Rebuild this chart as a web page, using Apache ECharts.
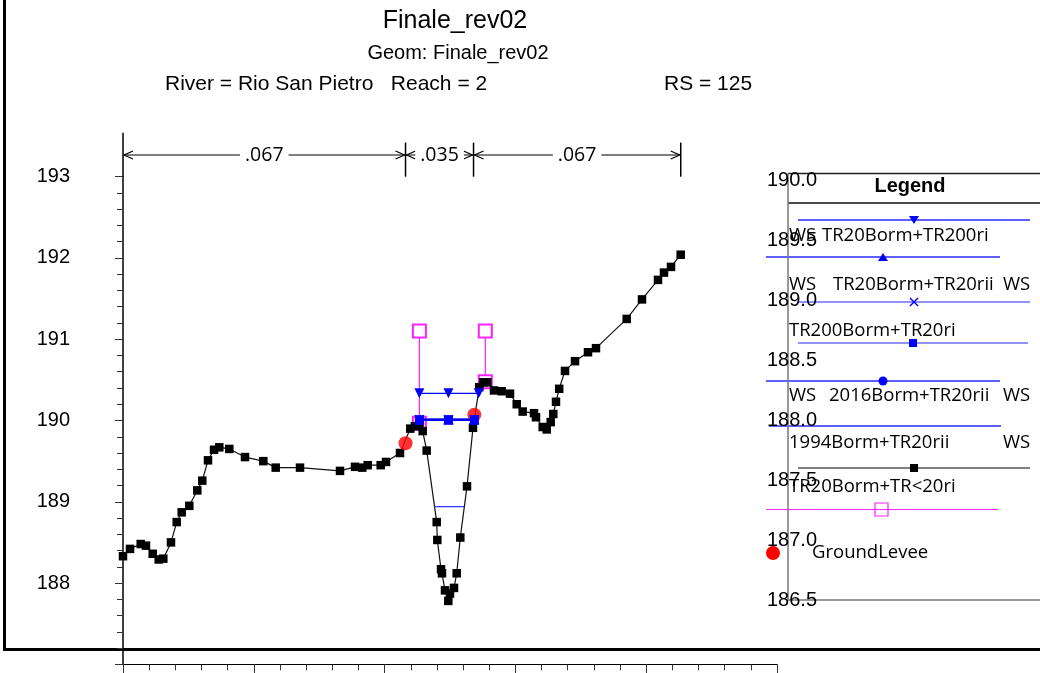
<!DOCTYPE html>
<html><head><meta charset="utf-8">
<script src="https://cdn.jsdelivr.net/npm/echarts@6/dist/echarts.min.js"></script>
<style>html,body{margin:0;padding:0;background:#fff}#c{width:1040px;height:673px}</style>
</head><body><div id="c"></div><script>
// ---- data (station, elevation) ----
const groundSta = [0,2.68,6.77,8.79,11.35,13.65,15.41,18.35,20.53,22.44,25.34,28.40,30.31,32.49,34.79,36.81,40.63,46.64,53.63,58.37,67.66,82.95,88.69,91.47,93.54,98.51,100.54,105.89,109.82,111.6,113.34,114.56,116.09,119.92,120.15,121.56,121.94,123.09,124.35,125.0,126.53,127.56,128.94,131.50,133.79,136.20,137.73,139.26,141.82,144.76,147.94,150.50,152.79,157.11,157.87,160.44,161.96,163.49,164.49,165.52,166.74,168.96,172.78,177.75,180.81,192.55,198.39,204.51,206.80,209.48,213.19];
const groundElev = [188.33,188.42,188.48,188.46,188.36,188.29,188.30,188.50,188.75,188.87,188.95,189.14,189.26,189.51,189.64,189.67,189.65,189.55,189.50,189.42,189.42,189.38,189.43,189.42,189.45,189.45,189.49,189.60,189.90,189.93,189.94,189.87,189.63,188.75,188.53,188.17,188.12,187.91,187.78,187.87,187.94,188.12,188.56,189.19,189.91,190.41,190.47,190.47,190.37,190.36,190.33,190.20,190.11,190.09,190.04,189.92,189.89,189.98,190.08,190.23,190.39,190.61,190.73,190.84,190.89,191.25,191.49,191.73,191.82,191.89,192.04];
const leveeSta = [108.0, 134.3];
const leveeElev = [189.72, 190.07];
const ineffLeftSta = [113.3, 113.3];
const ineffLeftElev = [189.965, 191.10];
const ineffRightSta = [138.5, 138.5];
const ineffRightElev = [190.477, 191.10];
const wsHighSta = [113.3, 124.4, 136.0];   // WS TR20Borm+TR200ri
const wsHighElev = [190.335, 190.335, 190.335];
const wsMidSta = [113.3, 124.4, 134.3];    // WS TR20Borm+TR20rii / TR200Borm+TR20ri / 2016Borm+TR20rii
const wsMidElev = [190.01, 190.01, 190.01];
const ws1994Sta = [118.9, 130.4];
const ws1994Elev = [188.94, 188.94];
const nStations = [0, 108.0, 134.0, 213.2];
const nValues = ['.067', '.035', '.067'];
const nArrowElev = 193.267;
const yTicks = [188, 189, 190, 191, 192, 193];
const legendAxisTicks = [186.5, 187.0, 187.5, 188.0, 188.5, 189.0, 189.5, 190.0];

const pairs = (s, e) => s.map((v, i) => [v, e[i]]);
const AX = '"Liberation Sans", Arial, sans-serif';
const SEG = '"Open Sans", "Noto Sans", sans-serif';
const xMark = 'path://M0,1L1,0L5,4L9,0L10,1L6,5L10,9L9,10L5,6L1,10L0,9L4,5Z';

const chart = echarts.init(document.getElementById('c'));

// legend decoration (graphic)
const g = [];
function hline(x1, x2, y, color, w) { g.push({type:'line', shape:{x1, y1:y, x2, y2:y}, style:{stroke:color, lineWidth:w||1}, silent:true}); }
function vline(x, y1, y2, color, w) { g.push({type:'line', shape:{x1:x, y1, x2:x, y2}, style:{stroke:color, lineWidth:w||1}, silent:true}); }
function txt(s, x, y, opt) { g.push(Object.assign({type:'text', x, y, style:{text:s, fill:'#000', font:'18.5px ' + SEG, verticalAlign:'middle'}, silent:true}, opt||{})); }
// outer frame
vline(4.5, 0, 650, '#000', 3);
hline(3, 1040, 649.5, '#000', 3);
// titles
g.push({type:'text', x:455, y:21, style:{text:'Finale_rev02', font:'25px ' + AX, fill:'#000', align:'center', verticalAlign:'middle'}});
g.push({type:'text', x:458, y:53, style:{text:'Geom: Finale_rev02', font:'20px ' + AX, fill:'#000', align:'center', verticalAlign:'middle'}});
g.push({type:'text', x:165, y:84, style:{text:'River = Rio San Pietro   Reach = 2', font:'21px ' + AX, fill:'#000', align:'left', verticalAlign:'middle'}});
g.push({type:'text', x:664, y:84, style:{text:'RS = 125', font:'21px ' + AX, fill:'#000', align:'left', verticalAlign:'middle'}});
// legend box
hline(788, 1040, 173.5, '#222', 1.5);
hline(788, 1040, 203, '#111', 1.5);
vline(788, 173, 181, '#777', 1.5);
g.push({type:'text', x:910, y:186, style:{text:'Legend', font:'bold 20px ' + AX, fill:'#000', align:'center', verticalAlign:'middle'}});
const BL = '#2a2aff', BL2 = '#6e6eff';
// item: down triangle
hline(798, 1030, 220, BL, 1.5);
g.push({type:'polygon', shape:{points:[[909,216],[919,216],[914,224]]}, style:{fill:'#0000ff'}});
txt('WS', 789, 236); txt('TR20Borm+TR200ri', 822, 236);
// up triangle
hline(766, 1000, 257, BL, 1.5);
g.push({type:'polygon', shape:{points:[[878,261],[888,261],[883,253]]}, style:{fill:'#0000ff'}});
txt('WS', 789, 285); txt('TR20Borm+TR20rii', 833, 285); txt('WS', 1003, 285);
// x
hline(798, 1030, 302, BL2, 1.5);
g.push({type:'polyline', shape:{points:[[910,298],[918,306]]}, style:{stroke:'#0000ff', lineWidth:1.5}});
g.push({type:'polyline', shape:{points:[[918,298],[910,306]]}, style:{stroke:'#0000ff', lineWidth:1.5}});
txt('TR200Borm+TR20ri', 789, 331);
// square
hline(798, 1028, 343, BL2, 1.5);
g.push({type:'rect', shape:{x:909, y:339, width:8, height:8}, style:{fill:'#0000ff'}});
// circle
hline(766, 1000, 381, BL, 1.5);
g.push({type:'circle', shape:{cx:883, cy:381, r:4.5}, style:{fill:'#0000ff'}});
txt('WS', 789, 396); txt('2016Borm+TR20rii', 829, 396); txt('WS', 1003, 396);
// 1994 no marker
hline(769, 1001, 426, BL, 1.5);
txt('1994Borm+TR20rii', 789, 443); txt('WS', 1003, 443);
// ground
hline(798, 1030, 468, '#555', 1.5);
g.push({type:'rect', shape:{x:910, y:464, width:8, height:8}, style:{fill:'#000'}});
txt('TR20Borm+TR<20ri', 789, 487);
// ineffective
hline(766, 998, 509.5, '#ff22ff', 1.2);
g.push({type:'rect', shape:{x:875, y:503, width:13, height:13}, style:{fill:'none', stroke:'#ff22ff', lineWidth:1.2}});
// levee
g.push({type:'circle', shape:{cx:773, cy:553, r:7}, style:{fill:'#ff0000'}});
txt('GroundLevee', 812, 553);

function renderN(params, api) {
  const x0 = api.value(0), x1 = api.value(1), yv = api.value(2), idx = api.value(3);
  const pL = api.coord([x0, yv]), pR = api.coord([x1, yv]);
  const y = pL[1];
  const tTop = api.coord([x1, 193.42])[1], tBot = api.coord([x1, 193.0])[1];
  const ch = [
    {type:'line', shape:{x1:pL[0], y1:y, x2:pR[0], y2:y}, style:{stroke:'#000', lineWidth:1}},
    {type:'polyline', shape:{points:[[pL[0]+10, y-4],[pL[0]+1, y],[pL[0]+10, y+4]]}, style:{stroke:'#000', lineWidth:1.2, fill:null}},
    {type:'polyline', shape:{points:[[pR[0]-10, y-4],[pR[0]-1, y],[pR[0]-10, y+4]]}, style:{stroke:'#000', lineWidth:1.2, fill:null}},
    {type:'line', shape:{x1:pR[0], y1:tTop, x2:pR[0], y2:tBot}, style:{stroke:'#000', lineWidth:1.5}},
    {type:'text', style:{text:nValues[idx], x:(pL[0]+pR[0])/2, y:y, align:'center', verticalAlign:'middle', font:'19.5px ' + SEG, fill:'#000', backgroundColor:'#fff', padding:[0,5]}}
  ];
  if (idx === 0) {
    const top = api.coord([x0, 193.54])[1];
    ch.push({type:'line', shape:{x1:pL[0], y1:top, x2:pL[0], y2:tBot}, style:{stroke:'#000', lineWidth:1.5}});
  }
  return {type:'group', children: ch};
}

const nData = nValues.map((v, i) => [nStations[i], nStations[i+1], nArrowElev, i]);

const option = {
  animation: false,
  backgroundColor: '#fff',
  grid: [
    {left:123, right:263, top:176.7, bottom:8.7},
    {left:788, top:180, width:252, height:420}
  ],
  xAxis: [
    {gridIndex:0, type:'value', min:0, max:250, interval:50,
     axisLine:{lineStyle:{color:'#000', width:1}},
     axisTick:{show:true, length:10, lineStyle:{color:'#333'}},
     minorTick:{show:true, splitNumber:5, length:6, lineStyle:{color:'#333'}},
     axisLabel:{show:false}, splitLine:{show:false}},
    {gridIndex:1, type:'value', min:0, max:1,
     axisLine:{lineStyle:{color:'#777', width:1.5}}, axisTick:{show:false},
     axisLabel:{show:false}, splitLine:{show:false}}
  ],
  yAxis: [
    {gridIndex:0, type:'value', min:187, max:193, interval:1,
     axisLine:{show:true, lineStyle:{color:'#000', width:1.5}},
     axisTick:{show:true, length:8, lineStyle:{color:'#333'}},
     minorTick:{show:true, splitNumber:5, length:6, lineStyle:{color:'#333'}},
     axisLabel:{margin:53, fontSize:20, fontFamily:'Liberation Sans', color:'#000',
       formatter: v => yTicks.includes(v) ? String(v) : ''},
     splitLine:{show:false}},
    {gridIndex:1, type:'value', min:legendAxisTicks[0], max:legendAxisTicks[legendAxisTicks.length-1], interval:0.5,
     axisLine:{show:true, lineStyle:{color:'#777', width:1.5}}, axisTick:{show:false},
     axisLabel:{margin:21, align:'left', fontSize:20, fontFamily:'Liberation Sans', color:'#000',
       formatter: v => v.toFixed(1)},
     splitLine:{show:false}}
  ],
  graphic: {elements: g},
  series: [
    {name:'Ineff', type:'line', data:pairs(ineffLeftSta, ineffLeftElev), symbol:'emptyRect', symbolSize:13,
     itemStyle:{color:'#ff22ff', borderWidth:1.2}, lineStyle:{color:'#ff22ff', width:1.2}, z:2},
    {name:'Ineff', type:'line', data:pairs(ineffRightSta, ineffRightElev), symbol:'emptyRect', symbolSize:13,
     itemStyle:{color:'#ff22ff', borderWidth:1.2}, lineStyle:{color:'#ff22ff', width:1.2}, z:2},
    {name:'Ground', type:'line', data:pairs(groundSta, groundElev), symbol:'rect', symbolSize:8.5,
     itemStyle:{color:'#000'}, lineStyle:{color:'#111', width:1.2}, z:3},
    {name:'Levee', type:'scatter', data:pairs(leveeSta, leveeElev), symbol:'circle', symbolSize:14,
     itemStyle:{color:'#ff0000'}, z:4},
    {name:'WS 1994', type:'line', data:pairs(ws1994Sta, ws1994Elev), symbol:'none',
     lineStyle:{color:'#2a2aff', width:1.2}, z:5},
    {name:'WS high', type:'line', data:pairs(wsHighSta, wsHighElev), symbol:'triangle', symbolRotate:180, symbolSize:10,
     itemStyle:{color:'#0000ff'}, lineStyle:{color:'#0000ff', width:1.2}, z:5},
    {name:'WS circle', type:'line', data:pairs(wsMidSta, wsMidElev), symbol:'circle', symbolSize:9,
     itemStyle:{color:'#0000ff'}, lineStyle:{color:'#0000ff', width:2}, z:5},
    {name:'WS square', type:'line', data:pairs(wsMidSta, wsMidElev), symbol:'rect', symbolSize:9,
     itemStyle:{color:'#0000ff'}, lineStyle:{color:'#0000ff', width:2}, z:5},
    {name:'WS x', type:'line', data:pairs(wsMidSta, wsMidElev), symbol:xMark, symbolSize:10,
     itemStyle:{color:'#0000ff'}, lineStyle:{color:'#0000ff', width:2}, z:5},
    {name:'WS up', type:'line', data:pairs(wsMidSta, wsMidElev), symbol:'triangle', symbolSize:10,
     itemStyle:{color:'#0000ff'}, lineStyle:{color:'#0000ff', width:2}, z:5},
    {name:'n', type:'custom', renderItem: renderN, data:nData, encode:{x:[0,1], y:2}, clip:false, z:6, silent:true}
  ]
};
chart.setOption(option);
</script></body></html>
